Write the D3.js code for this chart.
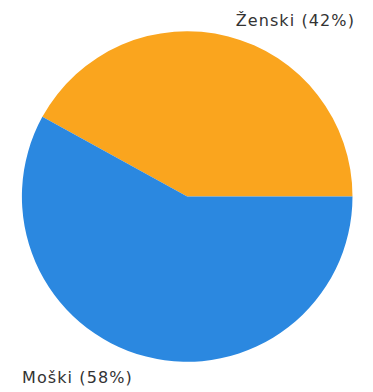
<!DOCTYPE html>
<html>
<head>
<meta charset="utf-8">
<script src="https://cdn.jsdelivr.net/npm/d3@7"></script>
<style>
  html, body { margin: 0; padding: 0; background: #fff; }
  svg { display: block; }
</style>
</head>
<body>
<svg id="chart" width="373" height="392"></svg>
<script>
// Gender split
const categories = ["Ženski", "Moški"];
const values = [42, 58];
const colors = ["#FAA51E", "#2B88E0"];

const width = 373, height = 392;
const cx = 187.2, cy = 196.5, radius = 165.3;

const svg = d3.select("#chart");
const g = svg.append("g").attr("transform", `translate(${cx},${cy})`);

// First slice starts at 3 o'clock and runs counter-clockwise
const pie = d3.pie()
  .sort(null)
  .value(d => d.value)
  .startAngle(Math.PI / 2)
  .endAngle(Math.PI / 2 - 2 * Math.PI);

const data = categories.map((c, i) => ({ name: c, value: values[i], color: colors[i] }));
const arcs = pie(data);

const arc = d3.arc().innerRadius(0).outerRadius(radius);

g.selectAll("path")
  .data(arcs)
  .join("path")
  .attr("d", arc)
  .attr("fill", d => d.data.color);

const total = d3.sum(values);
const label = d => `${d.name} (${Math.round(d.value / total * 100)}%)`;

const labelStyle = sel => sel
  .attr("font-family", "DejaVu Sans, Verdana, sans-serif")
  .attr("font-size", 16)
  .attr("letter-spacing", 1.1)
  .attr("fill", "#333");

// Labels outside the pie
svg.append("text")
  .attr("x", 355)
  .attr("y", 26)
  .attr("text-anchor", "end")
  .call(labelStyle)
  .text(label(data[0]));

svg.append("text")
  .attr("x", 22)
  .attr("y", 383)
  .attr("text-anchor", "start")
  .call(labelStyle)
  .text(label(data[1]));
</script>
</body>
</html>
